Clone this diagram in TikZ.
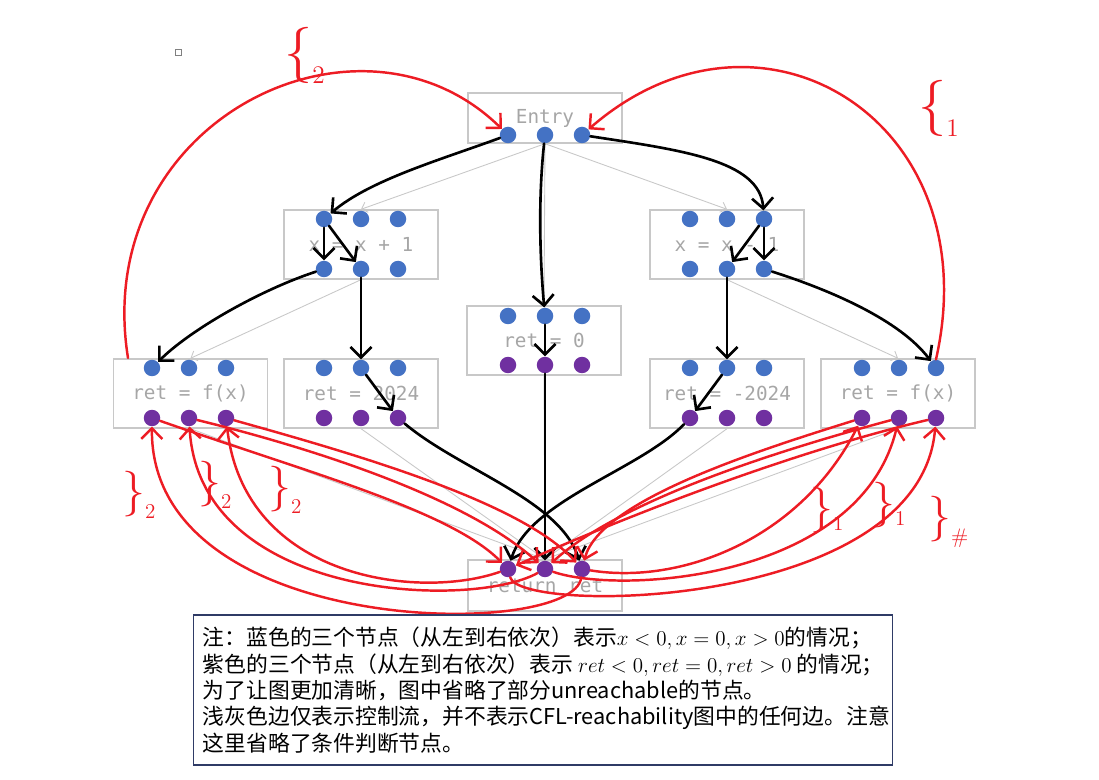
\documentclass[tikz,border=0pt]{standalone}
\usepackage{fontspec}
\newfontfamily\cjk{Noto Sans CJK SC}
\newfontfamily\codefont{DejaVu Sans Mono}
\usetikzlibrary{arrows.meta}
\definecolor{dotblue}{HTML}{4472C4}
\definecolor{dotpurple}{HTML}{7030A0}
\definecolor{boxgray}{HTML}{C8C8C8}
\definecolor{txtgray}{HTML}{A6A6A6}
\definecolor{penred}{HTML}{ED1C24}
\definecolor{notenavy}{HTML}{2F3B66}

\begin{document}
\begin{tikzpicture}[x=0.02cm,y=-0.02cm,
    box/.style={draw=boxgray,line width=0.8pt,minimum width=3.08cm,minimum height=1.38cm,text=txtgray,font=\codefont\fontsize{11}{13}\selectfont},
    bdot/.style={circle,fill=dotblue,minimum size=0.33cm,inner sep=0pt},
    pdot/.style={circle,fill=dotpurple,minimum size=0.33cm,inner sep=0pt},
    cf/.style={draw=boxgray,line width=0.5pt,-{Straight Barb[length=3pt,width=6pt]}},
    bk/.style={black,line width=1.5pt,line cap=round,-{Straight Barb[length=6pt,width=12pt]}},
    rd/.style={penred,line width=1.4pt,line cap=round,-{Straight Barb[length=6pt,width=12pt]}},
    tag/.style={text=penred,inner sep=0pt,anchor=west}]
    \useasboundingbox (0,0) rectangle (1099,780);

    % blocks
    \node[box,minimum height=1.0cm] (entry) at (545,118) {Entry};
    \node[box] (incl) at (361,244.5) {x = x + 1};
    \node[box] (decl) at (727,244.5) {x = x - 1};
    \node[box] (zero) at (544,340.5) {ret = 0};
    \node[box] (fl) at (190.5,393.5) {ret = f(x)};
    \node[box] (pos) at (361,393.5) {ret = 2024};
    \node[box] (neg) at (727,393.5) {ret = -2024};
    \node[box] (fr) at (898,393.5) {ret = f(x)};
    \node[box,minimum height=1.02cm] (exit) at (545,585.5) {return ret};
    \draw[gray,line width=0.5pt] (175,49) rectangle (181,55);

    % control flow
    \draw[cf] (entry.south) -- (incl.north);
    \draw[cf] (entry.south) -- (decl.north);
    \draw[cf] (entry.south) -- (zero.north);
    \draw[cf] (incl.south) -- (fl.north);
    \draw[cf] (incl.south) -- (pos.north);
    \draw[cf] (decl.south) -- (neg.north);
    \draw[cf] (decl.south) -- (fr.north);
    \foreach \b in {fl,pos,zero,neg,fr}
        \draw[cf] (\b.south) -- (exit.north);

    % value nodes
    \foreach \r/\cx/\cy in {en/545/135, it/361/219, ib/361/269, dt/727/219, db/727/269, zt/545/316, lt/189/368, pt/361/368, nt/727/368, rt/899/368}
        \foreach \i in {1,2,3}
            \node[bdot] (\r\i) at ({\cx+(\i-2)*37},\cy) {};
    \foreach \r/\cx/\cy in {zp/545/365, lp/189/418, pp/361/418, np/727/418, rp/899/418, xp/545/569}
        \foreach \i in {1,2,3}
            \node[pdot] (\r\i) at ({\cx+(\i-2)*37},\cy) {};

    % reachable edges
    \draw[bk] (en1) .. controls (440,160) and (370,180) .. (it1);
    \draw[bk] (en2) .. controls (538,200) and (540,260) .. (zt2);
    \draw[bk] (en3) .. controls (680,150) and (760,160) .. (dt3);
    \draw[bk] (it1) -- (ib1);
    \draw[bk] (it1) -- (ib2);
    \draw[bk] (ib1) .. controls (260,290) and (190,330) .. (lt1);
    \draw[bk] (ib2) -- (pt2);
    \draw[bk] (dt3) -- (db2);
    \draw[bk] (dt3) -- (db3);
    \draw[bk] (db2) -- (nt2);
    \draw[bk] (db3) .. controls (830,290) and (900,320) .. (rt3);
    \draw[bk] (zt2) -- (zp2);
    \draw[bk] (pt2) -- (pp3);
    \draw[bk] (nt2) -- (np1);
    \draw[bk] (pp3) .. controls (460,470) and (560,500) .. (xp3);
    \draw[bk] (np1) .. controls (640,470) and (530,500) .. (xp1);
    \draw[bk] (zp2) -- (xp2);

    % call edges
    \coordinate (lcall) at (128,358);
    \draw[rd] (lcall) .. controls (90,120) and (360,-10) .. (en1);
    \draw[rd] (rt3.north) .. controls (990,120) and (760,-20) .. (en3);

    % return edges
    \draw[rd] (xp3) .. controls (575,640) and (150,640) .. (lp1);
    \draw[rd] (xp2) .. controls (470,610) and (200,600) .. (lp2);
    \draw[rd] (xp1) .. controls (420,600) and (245,580) .. (lp3);
    \draw[rd] (xp1) .. controls (520,615) and (920,610) .. (rp3);
    \draw[rd] (xp2) .. controls (620,595) and (860,580) .. (rp2);
    \draw[rd] (xp3) .. controls (680,585) and (800,540) .. (rp1);
    \draw[rd] (lp1) .. controls (300,470) and (450,510) .. (xp1);
    \draw[rd] (lp2) .. controls (320,450) and (470,500) .. (xp2);
    \draw[rd] (lp3) .. controls (340,450) and (520,500) .. (xp3);
    \draw[rd] (rp1) .. controls (760,450) and (600,500) .. (xp3);
    \draw[rd] (rp2) .. controls (780,450) and (620,500) .. (xp2);
    \draw[rd] (rp3) .. controls (800,450) and (640,510) .. (xp1);

    % paren labels
    \node[tag] (open2) at (284,55) {{\fontsize{32}{32}\selectfont\{}\raisebox{-8pt}{\Large 2}};
    \node[tag] (open1) at (918,108) {{\fontsize{32}{32}\selectfont\{}\raisebox{-8pt}{\Large 1}};
    \node[tag] (close2a) at (122,495) {{\fontsize{26}{26}\selectfont\}}\raisebox{-7pt}{\large 2}};
    \node[tag] (close2b) at (198,485) {{\fontsize{26}{26}\selectfont\}}\raisebox{-7pt}{\large 2}};
    \node[tag] (close2c) at (268,490) {{\fontsize{26}{26}\selectfont\}}\raisebox{-7pt}{\large 2}};
    \node[tag] (close1a) at (810,510) {{\fontsize{26}{26}\selectfont\}}\raisebox{-5pt}{\large 1}};
    \node[tag] (close1b) at (872,505) {{\fontsize{26}{26}\selectfont\}}\raisebox{-5pt}{\large 1}};
    \node[tag] (closex) at (928,522) {{\fontsize{26}{26}\selectfont\}}\raisebox{-7pt}{\large\#}};

    % note
    \node[draw=notenavy,line width=0.6pt,minimum width=14cm,minimum height=3cm] (note) at (543,690) {};
    \node[anchor=west,align=left,inner sep=0pt,font=\cjk\fontsize{12.4}{15}\selectfont] (notetext) at ([xshift=0.2cm]note.west)
        {注：蓝色的三个节点（从左到右依次）表示$x<0,x=0,x>0$的情况；\\
         紫色的三个节点（从左到右依次）表示 $ret<0,ret=0,ret>0$ 的情况；\\
         为了让图更加清晰，图中省略了部分unreachable的节点。\\
         浅灰色边仅表示控制流，并不表示CFL-reachability图中的任何边。注意\\
         这里省略了条件判断节点。};
\end{tikzpicture}
\end{document}
